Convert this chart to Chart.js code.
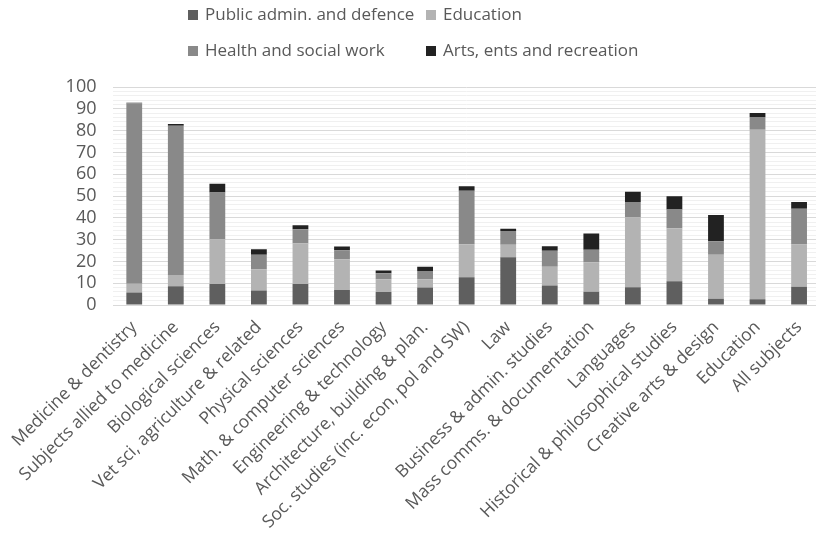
<!DOCTYPE html>
<html><head><meta charset="utf-8">
<script src="https://cdn.jsdelivr.net/npm/chart.js@4/dist/chart.umd.min.js"></script>
<style>
html,body{margin:0;padding:0;background:#fff;overflow:hidden;width:816px;height:536px;}
#wrap{position:absolute;left:0;top:0;width:826px;height:536px;}
.lg{position:absolute;font-family:"Open Sans",sans-serif;font-size:17px;color:#595959;white-space:nowrap;line-height:20px;}
.lg span.b{display:inline-block;width:10px;height:10px;margin-right:7px;vertical-align:0px;}
</style></head><body>
<div id="wrap"><canvas id="c" width="826" height="536"></canvas></div>
<div id="legend"></div>
<script>
const categories = ["Medicine & dentistry","Subjects allied to medicine","Biological sciences","Vet sci, agriculture & related","Physical sciences","Math. & computer sciences","Engineering & technology","Architecture, building & plan.","Soc. studies (inc. econ, pol and SW)","Law","Business & admin. studies","Mass comms. & documentation","Languages","Historical & philosophical studies","Creative arts & design","Education","All subjects"];
const publicAdmin = [5.7, 8.6, 9.6, 6.6, 9.6, 6.9, 6.0, 8.0, 12.7, 21.9, 8.9, 6.1, 8.1, 10.9, 2.9, 2.6, 8.4];
const education   = [4.1, 5.2, 20.6, 9.8, 18.7, 14.1, 5.8, 3.8, 15.2, 5.7, 8.7, 13.5, 32.2, 24.3, 20.1, 77.8, 19.3];
const health      = [82.8, 68.4, 21.4, 6.7, 6.5, 4.1, 2.8, 3.8, 24.5, 6.4, 7.3, 5.7, 6.9, 8.6, 6.3, 5.8, 16.4];
const arts        = [0.2, 0.8, 4.0, 2.5, 1.8, 1.7, 1.2, 1.9, 2.1, 1.0, 2.1, 7.5, 4.8, 6.1, 12.0, 1.9, 3.1];
const seriesNames = ["Public admin. and defence","Education","Health and social work","Arts, ents and recreation"];
const seriesColors = ["#5f5f5f","#b3b3b3","#898989","#222222"];
const yTicks = [0,10,20,30,40,50,60,70,80,90,100];

const values = [publicAdmin, education, health, arts];
const datasets = seriesNames.map((n,i)=>({label:n,data:values[i],backgroundColor:seriesColors[i],borderWidth:0,barPercentage:0.38,categoryPercentage:1.0}));

// legend (HTML text)
const legendPos = [[188,4],[426,4],[188,40],[426,40]];
const lg = document.getElementById('legend');
seriesNames.forEach((n,i)=>{
  const d=document.createElement('div');d.className='lg';
  d.style.left=legendPos[i][0]+'px';d.style.top=legendPos[i][1]+'px';
  d.innerHTML='<span class="b" style="background:'+seriesColors[i]+'"></span>'+n;
  lg.appendChild(d);
});

new Chart(document.getElementById('c'),{
  type:'bar',
  data:{labels:categories,datasets:datasets},
  options:{
    responsive:false,animation:false,
    layout:{padding:{top:87,left:4,right:4,bottom:0}},
    plugins:{legend:{display:false},tooltip:{enabled:false}},
    scales:{
      x:{stacked:true,
        afterFit:(s)=>{s.height=231;},
        grid:{display:false,drawTicks:false},
        border:{display:true,color:'#d9d9d9',width:1},
        ticks:{color:'#595959',font:{family:'Open Sans',size:17.5},minRotation:45,maxRotation:45,autoSkip:false,padding:12}},
      y:{stacked:true,min:0,max:100,
        afterFit:(s)=>{s.width=108;},
        border:{display:false},
        grid:{drawTicks:false,color:(ctx)=> (ctx.tick && ctx.tick.value%10===0)?'#d9d9d9':'#f0f0f0',lineWidth:1},
        ticks:{stepSize:2,autoSkip:false,color:'#595959',font:{family:'Open Sans',size:18},padding:17,
          callback:(v)=> yTicks.includes(v)?String(v):''}}
    }
  }
});
</script>
</body></html>
